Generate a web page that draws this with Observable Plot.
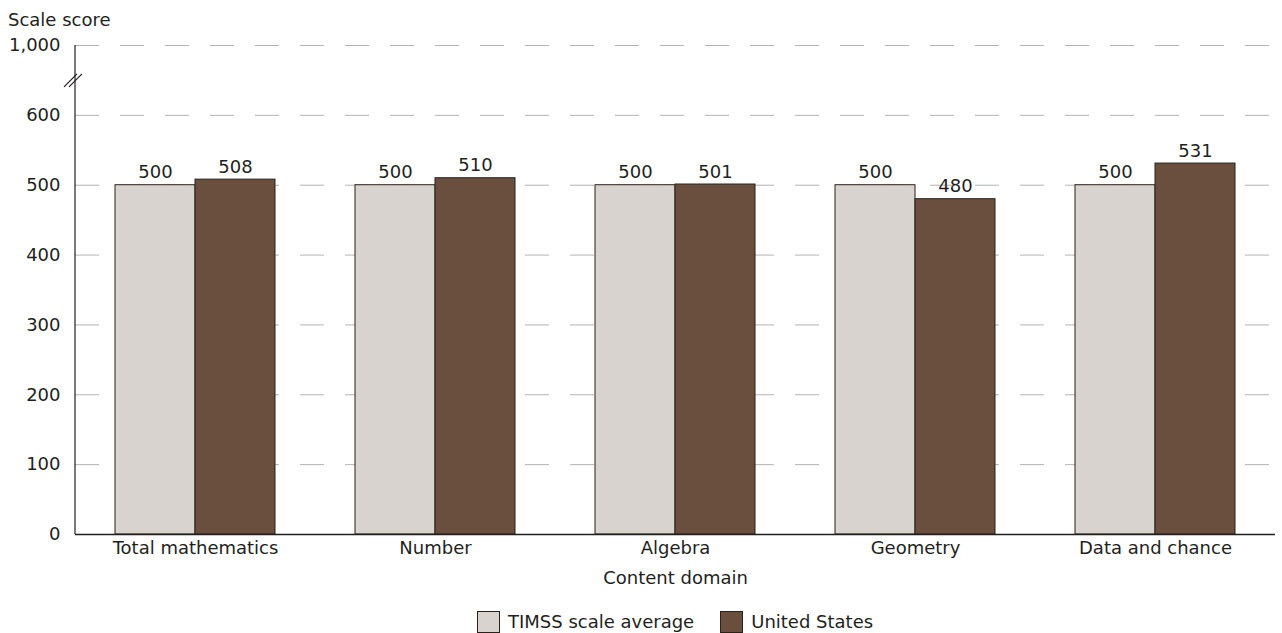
<!DOCTYPE html>
<html>
<head>
<meta charset="utf-8">
<script src="https://cdn.jsdelivr.net/npm/d3@7"></script>
<script src="https://cdn.jsdelivr.net/npm/@observablehq/plot@0.6"></script>
<style>
  html, body { margin: 0; padding: 0; background: #fff; }
  body { font-family: "DejaVu Sans", sans-serif; color: #231f20; width: 1282px; height: 633px; position: relative; overflow: hidden; }
  #ylabel { position: absolute; left: 8px; top: 9px; font-size: 18px; line-height: 22px; }
  #chart { position: absolute; left: 0; top: 0; }
  #legend { position: absolute; top: 611px; left: 477px; display: flex; gap: 26px; font-size: 18px; line-height: 22px; }
  #legend .item { display: flex; align-items: center; gap: 8px; }
  #legend .sw { width: 23px; height: 22px; box-sizing: border-box; border: 1px solid #2b2119; }
</style>
</head>
<body>
<div id="chart"></div>
<div id="ylabel">Scale score</div>
<div id="legend"></div>
<script>
const categories = ["Total mathematics", "Number", "Algebra", "Geometry", "Data and chance"];
const timssValues = [500, 500, 500, 500, 500];
const usValues = [508, 510, 501, 480, 531];
const seriesNames = ["TIMSS scale average", "United States"];
const seriesColors = ["#d8d3cf", "#6a4f3f"];
const yTicks = [0, 100, 200, 300, 400, 500, 600, 700];
const yTickLabels = ["0", "100", "200", "300", "400", "500", "600", "1,000"];
const yBreakAt = 650;

const tickLabel = new Map(yTicks.map((t, i) => [t, yTickLabels[i]]));
const timss = categories.map((c, i) => ({category: c, value: timssValues[i]}));
const us = categories.map((c, i) => ({category: c, value: usValues[i]}));

const fontSize = 18;
const textColor = "#231f20";
const barStroke = "#2b2119";

function axisAndBreak(index, scales, values, dimensions) {
  const g = d3.create("svg:g").attr("stroke", "#231f20").attr("fill", "none");
  const x0 = dimensions.marginLeft;
  g.append("line").attr("x1", x0).attr("x2", x0)
    .attr("y1", scales.y(yTicks[yTicks.length - 1])).attr("y2", scales.y(0)).attr("stroke-width", 1.2);
  const yb = scales.y(yBreakAt);
  for (const off of [-9, -4]) {
    g.append("line")
      .attr("x1", x0 + off - 2).attr("y1", yb + 7)
      .attr("x2", x0 + off + 11).attr("y2", yb - 6)
      .attr("stroke-width", 1.2);
  }
  return g.node();
}

const bw = 80;
const chart = Plot.plot({
  width: 1282,
  height: 595,
  marginTop: 45,
  marginBottom: 61,
  marginLeft: 75,
  marginRight: 7,
  style: {fontFamily: "DejaVu Sans, sans-serif", fontSize: fontSize + "px", color: textColor, background: "transparent"},
  x: {type: "band", domain: categories, paddingInner: 1 / 3, paddingOuter: 1 / 6},
  y: {domain: [0, 700]},
  marks: [
    Plot.ruleY(yTicks.filter(t => t > 0), {stroke: "#b3b3b3", strokeWidth: 1, strokeDasharray: "24,21"}),
    Plot.barY(timss, {x: "category", y: "value", fill: seriesColors[0], stroke: barStroke, strokeWidth: 1, insetRight: bw}),
    Plot.barY(us, {x: "category", y: "value", fill: seriesColors[1], stroke: barStroke, strokeWidth: 1, insetLeft: bw}),
    Plot.text(timss, {x: "category", y: "value", text: d => String(d.value), dx: -bw / 2, dy: -7, lineAnchor: "bottom", fill: textColor, fontSize}),
    Plot.text(us, {x: "category", y: "value", text: d => String(d.value), dx: bw / 2, dy: -7, lineAnchor: "bottom", fill: textColor, fontSize}),
    Plot.ruleY([0], {stroke: "#231f20", strokeWidth: 1.5}),
    Plot.axisY(yTicks, {tickSize: 0, tickPadding: 15, tickFormat: d => tickLabel.get(d), fontSize, fill: textColor, label: null}),
    Plot.axisX({tickSize: 0, tickPadding: 7, fontSize, fill: textColor, label: "Content domain", labelAnchor: "center", labelOffset: 49}),
    axisAndBreak
  ]
});
document.getElementById("chart").append(chart);

const legend = document.getElementById("legend");
seriesNames.forEach((name, i) => {
  const item = document.createElement("div");
  item.className = "item";
  const sw = document.createElement("div");
  sw.className = "sw";
  sw.style.background = seriesColors[i];
  const label = document.createElement("span");
  label.textContent = name;
  item.append(sw, label);
  legend.append(item);
});
</script>
</body>
</html>
